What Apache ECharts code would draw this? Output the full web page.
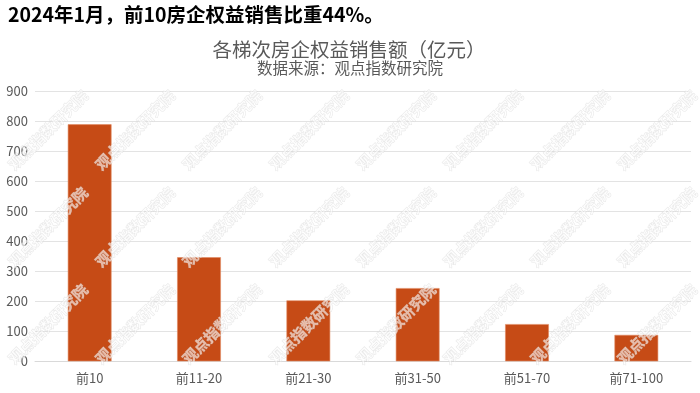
<!DOCTYPE html>
<html>
<head>
<meta charset="utf-8">
<script src="https://cdn.jsdelivr.net/npm/echarts@6/dist/echarts.min.js"></script>
<style>
html,body{margin:0;padding:0;background:#fff;}
#chart{width:700px;height:393px;}
</style>
</head>
<body>
<div id="chart"></div>
<script>
const categories = ['前10', '前11-20', '前21-30', '前31-50', '前51-70', '前71-100'];
const salesValues = [790, 347, 203, 244, 124, 88];
const yTicks = [0, 100, 200, 300, 400, 500, 600, 700, 800, 900];
const headingText = '2024年1月，前10房企权益销售比重44%。';
const chartTitle = '各梯次房企权益销售额（亿元）';
const sourceText = '数据来源：观点指数研究院';
const watermarkText = '观点指数研究院';

const FONT = '"Noto Sans CJK SC", "Noto Sans", sans-serif';

const marks = [];
const wmX = [48, 135, 222, 309, 396, 483, 570, 657];
const wmY = [130, 227, 324];
wmY.forEach(y => wmX.forEach(x => {
  marks.push({
    type: 'text', x: x, y: y, rotation: Math.PI / 4, z: 100, silent: true,
    style: {
      text: watermarkText, fontFamily: FONT, fontSize: 15, fontWeight: 'bold',
      fill: 'rgba(255,255,255,0.6)', stroke: 'rgba(200,200,200,0.45)', lineWidth: 0.8,
      align: 'center', verticalAlign: 'middle'
    }
  });
}));
marks.push(
  {type: 'text', x: 8, y: 15, z: 110, silent: true,
   style: {text: headingText, fontFamily: FONT, fontSize: 19.5, fontWeight: 'bold', fill: '#000',
           align: 'left', verticalAlign: 'middle'}},
  {type: 'text', x: 349, y: 49.5, z: 110, silent: true,
   style: {text: chartTitle, fontFamily: FONT, fontSize: 19.5, fill: '#595959',
           align: 'center', verticalAlign: 'middle'}},
  {type: 'text', x: 350, y: 68.5, z: 110, silent: true,
   style: {text: sourceText, fontFamily: FONT, fontSize: 15.5, fill: '#595959',
           align: 'center', verticalAlign: 'middle'}}
);

const chart = echarts.init(document.getElementById('chart'), null, {renderer: 'canvas'});
chart.setOption({
  backgroundColor: '#fff',
  animation: false,
  grid: {left: 35, right: 9, top: 91.3, bottom: 31.7, containLabel: false},
  xAxis: {
    type: 'category', data: categories,
    axisTick: {show: false},
    axisLine: {lineStyle: {color: '#d9d9d9'}},
    axisLabel: {color: '#595959', fontSize: 13, fontFamily: FONT, margin: 10}
  },
  yAxis: {
    type: 'value', min: yTicks[0], max: yTicks[yTicks.length - 1], interval: 100,
    axisLine: {show: false}, axisTick: {show: false},
    splitLine: {lineStyle: {color: '#e3e3e3'}},
    axisLabel: {color: '#595959', fontSize: 13, fontFamily: FONT, margin: 7}
  },
  series: [{
    type: 'bar', data: salesValues, barWidth: '40%',
    itemStyle: {color: '#C64B16', borderColor: '#E08A62', borderWidth: 0.6}
  }],
  graphic: marks
});
</script>
</body>
</html>
